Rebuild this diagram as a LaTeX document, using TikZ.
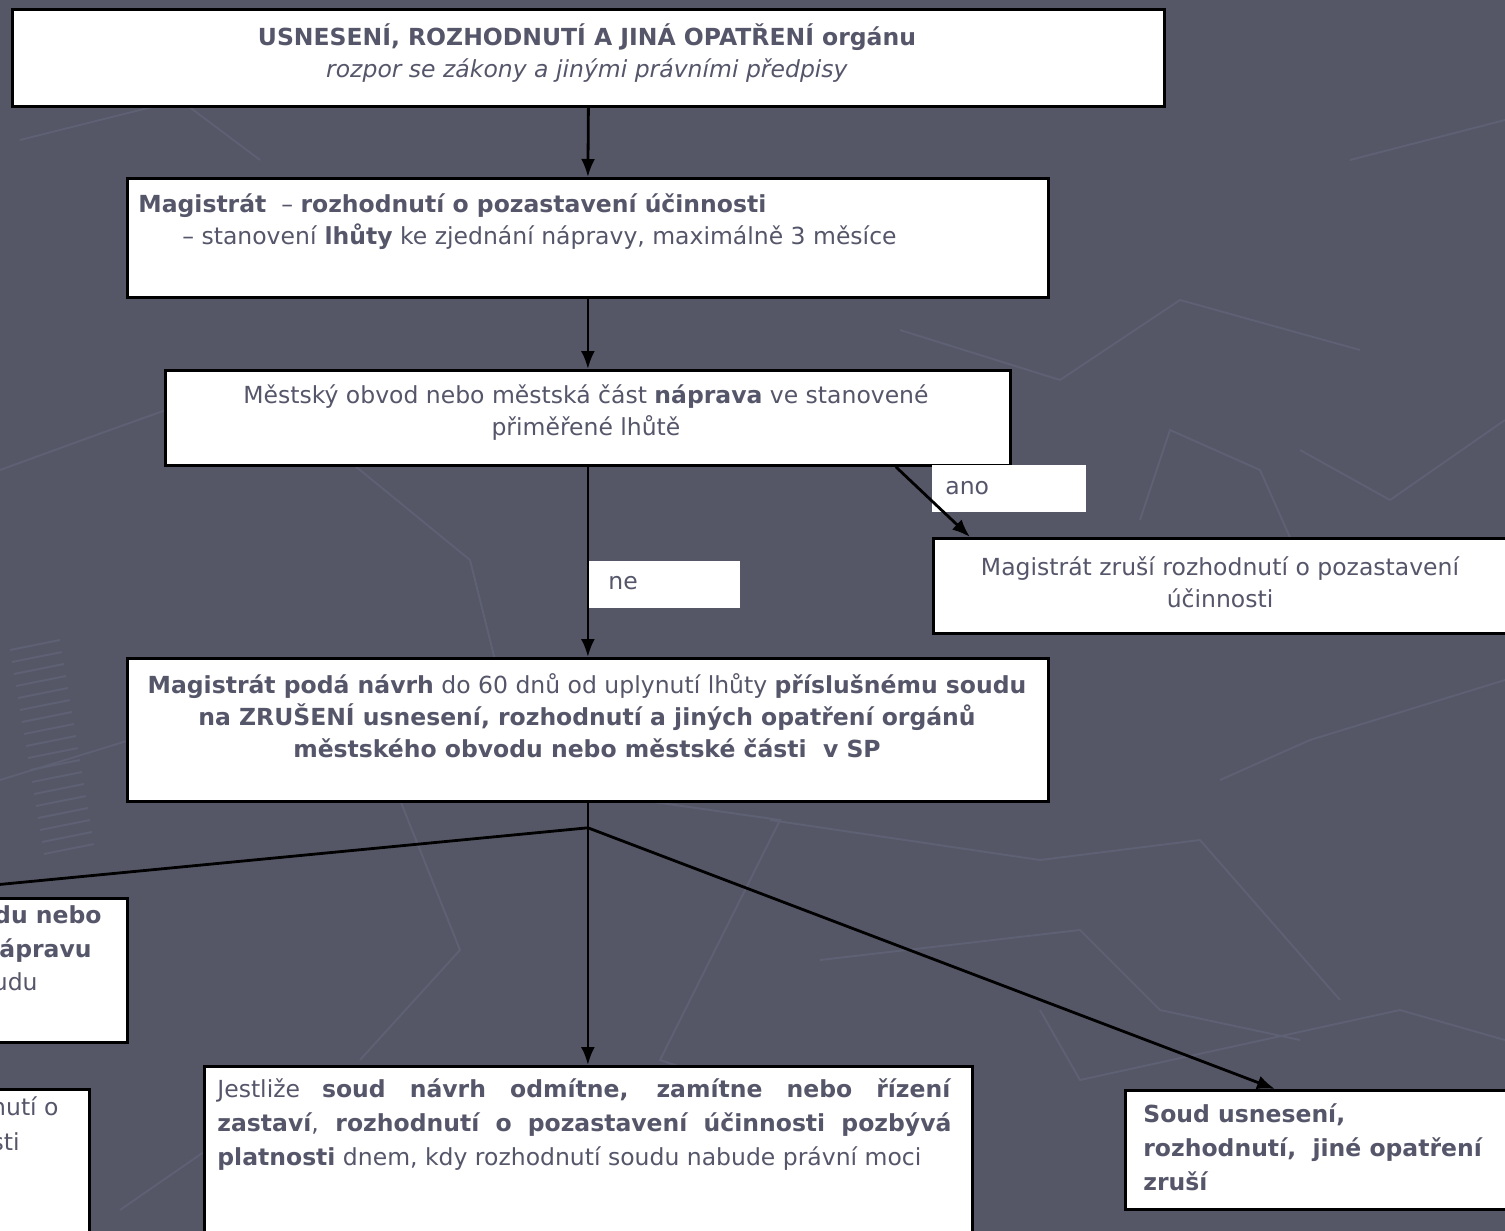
\documentclass[tikz,border=0pt]{standalone}
\usepackage{fontspec}
\setmainfont{DejaVu Sans}
\usetikzlibrary{calc, arrows.meta}

\definecolor{slide}{HTML}{555767}
\definecolor{ink}{HTML}{55566A}
\definecolor{deco}{HTML}{5E6073}

\tikzset{
	box/.style = {draw = black, line width = 1.4pt, fill = white, inner sep = 0pt, anchor = north west},
	tag/.style = {fill = white, inner sep = 0pt, anchor = north west},
	txt/.style = {text = ink, inner sep = 0pt, font = \fontsize{11.75}{16}\selectfont},
	wide/.style = {font = \fontsize{11.75}{17}\selectfont},
	link/.style = {line width = 1.4pt}
}

\begin{document}
\begin{tikzpicture}[x = 0.5pt, y = -0.5pt, > = {Latex[length = 9pt, width = 7pt]}]

	% Slide background

	\useasboundingbox (0, 0) rectangle (1505, 1231);
	\clip (0, 0) rectangle (1505, 1231);
	\fill [slide] (0, 0) rectangle (1505, 1231);

	% Faint pattern behind the chart

	\begin{scope}[deco, line width = 1pt]
		\draw (0, 470) -- (110, 430) -- (250, 380) -- (470, 560) -- (520, 760);
		\draw (0, 780) -- (130, 740) -- (400, 800) -- (460, 950) -- (360, 1060);
		\draw (640, 800) -- (780, 820) -- (660, 1060) -- (780, 1100);
		\draw (770, 820) -- (1040, 860) -- (1200, 840) -- (1340, 1000);
		\draw (820, 960) -- (1080, 930) -- (1160, 1010) -- (1300, 1040);
		\draw (1040, 1010) -- (1080, 1080) -- (1400, 1010) -- (1505, 1040);
		\draw (1220, 780) -- (1310, 740) -- (1505, 680);
		\draw (1300, 450) -- (1390, 500) -- (1505, 420);
		\draw (1140, 520) -- (1170, 430) -- (1260, 470) -- (1300, 560);
		\draw (20, 140) -- (180, 100) -- (260, 160);
		\draw (1350, 160) -- (1505, 120);
		\draw (900, 330) -- (1060, 380) -- (1180, 300) -- (1360, 350);
		\draw (250, 1120) -- (120, 1210);
		\foreach \k in {0, ..., 17}
			\draw ({10 + 2 * \k}, {650 + 12 * \k}) -- ({60 + 2 * \k}, {640 + 12 * \k});
	\end{scope}

	% Boxes

	\node [box, minimum width = 576pt, minimum height = 48.5pt] (top) at (11, 8) {};
	\node [box, minimum width = 460.5pt, minimum height = 59.5pt] (mag) at (126, 177) {};
	\node [box, minimum width = 422.5pt, minimum height = 47.5pt] (mest) at (164, 369) {};
	\node [tag, minimum width = 77pt, minimum height = 23.5pt] (ano-tag) at (932, 465) {};
	\node [box, minimum width = 299pt, minimum height = 47.5pt] (zrusi) at (932, 537) {};
	\node [tag, minimum width = 76pt, minimum height = 23.5pt] (ne-tag) at (588, 561) {};
	\node [box, minimum width = 460.5pt, minimum height = 71.5pt] (poda) at (126, 657) {};
	\node [box, minimum width = 258pt, minimum height = 72pt] (napr) at (-390, 897) {};
	\node [box, minimum width = 194pt, minimum height = 86pt] (konec) at (-300, 1088) {};
	\node [box, minimum width = 384pt, minimum height = 97.5pt] (soud) at (203, 1065) {};
	\node [box, minimum width = 203pt, minimum height = 59.5pt] (zrus) at (1124, 1089) {};

	% Texts

	\node [txt, align = center] (top-text) at (587, 53)
		{\textbf{USNESENÍ, ROZHODNUTÍ A JINÁ OPATŘENÍ orgánu}\\
		\textit{rozpor se zákony a jinými právními předpisy}};
	\node [txt, align = left, anchor = west] (mag-text) at (138, 222)
		{\textbf{Magistrát}\ \ – \textbf{rozhodnutí o pozastavení účinnosti}\\
		\hspace*{22pt}– stanovení \textbf{lhůty} ke zjednání nápravy, maximálně 3 měsíce};
	\node [txt, align = center] (mest-text) at (586, 413)
		{Městský obvod nebo městská část \textbf{náprava} ve stanovené\\
		přiměřené lhůtě};
	\node [txt, anchor = west] (ano) at (945, 488) {ano};
	\node [txt, anchor = west] (ne) at (608, 583) {ne};
	\node [txt, align = center] (zrusi-text) at (1220, 582)
		{Magistrát zruší rozhodnutí o pozastavení\\účinnosti};
	\node [txt, align = center] (poda-text) at (587, 716)
		{\textbf{Magistrát podá návrh} do 60 dnů od uplynutí lhůty \textbf{příslušnému soudu}\\
		\textbf{na ZRUŠENÍ usnesení, rozhodnutí a jiných opatření orgánů}\\
		\textbf{městského obvodu nebo městské části\ \ v SP}};
	\node [txt, anchor = base east] (napr-a) at (102, 923) {\textbf{du nebo}};
	\node [txt, anchor = base east] (napr-b) at (92, 957) {\textbf{ápravu}};
	\node [txt, anchor = base east] (napr-c) at (38, 990) {udu};
	\node [txt, anchor = base east] (konec-a) at (59, 1115) {nutí o};
	\node [txt, anchor = base east] (konec-b) at (20, 1150) {sti};
	\node [txt, wide, align = left, anchor = west] (soud-text) at (217, 1125)
		{\makebox[367pt][s]{Jestliže \textbf{soud návrh odmítne, zamítne nebo řízení}}\\
		\makebox[367pt][s]{\textbf{zastaví}, \textbf{rozhodnutí o pozastavení účinnosti pozbývá}}\\
		\textbf{platnosti} dnem, kdy rozhodnutí soudu nabude právní moci};
	\node [txt, wide, align = left, anchor = west] (zrus-text) at (1143, 1147)
		{\textbf{Soud usnesení,}\\
		\textbf{rozhodnutí,\ \ jiné opatření}\\
		\textbf{zruší}};

	% Connectors

	\draw [link, ->] (top.south) -- (mag.north);
	\draw [link, ->] (mag.south) -- (mest.north);
	\draw [link, ->] (mest.south) -- (poda.north);
	\draw [link, ->] ($(mest.south east) + (-116, 0)$) -- ($(zrusi.north west) + (38, 0)$);

	\coordinate (split) at ($(poda.south) + (0, 25)$);
	\draw [link] (poda.south) -- (split);
	\draw [link, ->] (split) -- (napr.north);
	\draw [link, ->] (split) -- (split |- soud.north);
	\draw [link, ->] (split) -- ($(zrus.north west) + (151, 0)$);

\end{tikzpicture}
\end{document}
